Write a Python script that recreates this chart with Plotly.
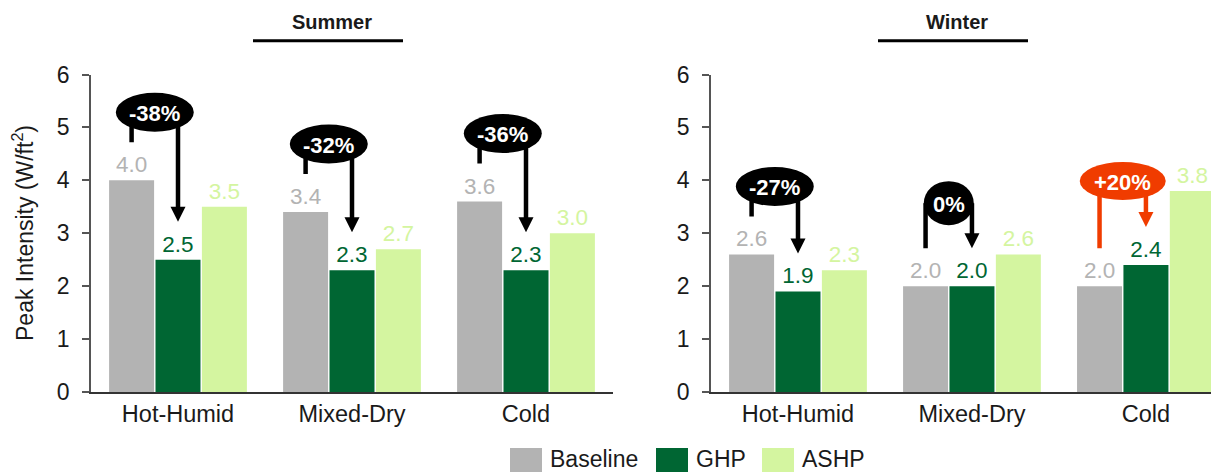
import plotly.graph_objects as go

# ---------------- data ----------------
categories = ["Hot-Humid", "Mixed-Dry", "Cold"]
series_names = ["Baseline", "GHP", "ASHP"]
summer_baseline = [4.0, 3.4, 3.6]
summer_ghp = [2.5, 2.3, 2.3]
summer_ashp = [3.5, 2.7, 3.0]
winter_baseline = [2.6, 2.0, 2.0]
winter_ghp = [1.9, 2.0, 2.4]
winter_ashp = [2.3, 2.6, 3.8]
panel_titles = ["Summer", "Winter"]
y_tick_values = [0, 1, 2, 3, 4, 5, 6]
y_axis_title = "Peak Intensity (W/ft<sup>2</sup>)"

# ---------------- styles ----------------
W, H = 1219, 472
OFF = 8  # page body margin
FONT = "Liberation Sans, Arial, sans-serif"
TXT = "#1a1a1a"
bar_colors = ["#b3b3b3", "#006633", "#d4f5a0"]
label_colors = ["#b3b3b3", "#006633", "#d4f5a0"]
DOWN_COLOR = "#000000"
UP_COLOR = "#f03c00"
BARGAP = 0.2
SLOT = (1 - BARGAP) / 3
PX_X = 174.0          # pixels per category unit
PX_Y = 317.5 / 6.0    # pixels per y unit


def px_x(p):
    return (p - OFF) / W


def px_y(p):
    return 1 - (p - OFF) / H


# callout geometry (pixels): ellipse offset above max(baseline, ghp), width, height
callout_style = {
    0: [(68, 78, 39), (68, 78, 39), (68, 78, 39)],
    1: [(68, 78, 39), (83, 50, 44), (84, 86, 38)],
}

panels = [
    (summer_baseline, summer_ghp, summer_ashp),
    (winter_baseline, winter_ghp, winter_ashp),
]
x_domains = [[px_x(91), px_x(613)], [px_x(711), px_x(1219)]]
x_ranges = [[-0.5, 2.5], [-0.5, 2.42]]
y_domain = [px_y(392), px_y(74.5)]

fig = go.Figure()
xs = list(range(len(categories)))

for p, series in enumerate(panels):
    xa = "x" if p == 0 else "x2"
    ya = "y" if p == 0 else "y2"
    for s, vals in enumerate(series):
        fig.add_trace(go.Bar(
            x=xs, y=vals, name=series_names[s],
            marker=dict(color=bar_colors[s], line=dict(width=0)),
            text=[f"{v:.1f}" for v in vals], textposition="outside",
            textfont=dict(family=FONT, size=22.5, color=label_colors[s]),
            cliponaxis=False, constraintext="none",
            offsetgroup=str(s), xaxis=xa, yaxis=ya, showlegend=False,
            hoverinfo="skip",
        ))

shapes = []
annotations = []

for p, (base, ghp, _a) in enumerate(panels):
    xr = "x" if p == 0 else "x2"
    yr = "y" if p == 0 else "y2"
    for i in range(len(categories)):
        change = round((ghp[i] - base[i]) / base[i] * 100)
        if change > 0:
            label = f"+{change}%"
        elif change < 0:
            label = f"{change}%"
        else:
            label = "0%"
        color = UP_COLOR if change > 0 else DOWN_COLOR
        off, ew, eh = callout_style[p][i]
        xb = i - SLOT
        xg = i
        xc = (xb + xg) / 2
        yc = max(base[i], ghp[i]) + off / PX_Y
        y_left_bottom = base[i] + 38 / PX_Y
        y_tip = ghp[i] + 38 / PX_Y
        head_h = 15 / PX_Y
        head_hw = 7.5 / PX_X
        shapes.append(dict(type="line", xref=xr, yref=yr, x0=xb, x1=xb,
                           y0=y_left_bottom, y1=yc,
                           line=dict(color=color, width=4.5), layer="above"))
        shapes.append(dict(type="line", xref=xr, yref=yr, x0=xg, x1=xg,
                           y0=y_tip + head_h * 0.9, y1=yc,
                           line=dict(color=color, width=4.5), layer="above"))
        shapes.append(dict(type="path", xref=xr, yref=yr,
                           path=f"M {xg - head_hw},{y_tip + head_h} L {xg + head_hw},{y_tip + head_h} L {xg},{y_tip} Z",
                           fillcolor=color, line=dict(color=color, width=0), layer="above"))
        shapes.append(dict(type="circle", xref=xr, yref=yr,
                           x0=xc - ew / 2 / PX_X, x1=xc + ew / 2 / PX_X,
                           y0=yc - eh / 2 / PX_Y, y1=yc + eh / 2 / PX_Y,
                           fillcolor=color, line=dict(color=color, width=0), layer="above"))
        annotations.append(dict(xref=xr, yref=yr, x=xc, y=yc, text=f"<b>{label}</b>",
                                showarrow=False, yshift=-1,
                                font=dict(family=FONT, size=22, color="white")))

# panel titles and underline
title_centers = [332, 957]
line_spans = [(253, 403), (878, 1028)]
for t, cx, (l0, l1) in zip(panel_titles, title_centers, line_spans):
    annotations.append(dict(xref="paper", yref="paper", x=px_x(cx), y=px_y(22),
                            text=f"<b>{t}</b>", showarrow=False,
                            xanchor="center", yanchor="middle",
                            font=dict(family=FONT, size=20, color=TXT)))
    shapes.append(dict(type="line", xref="paper", yref="paper",
                       x0=px_x(l0), x1=px_x(l1), y0=px_y(40.7), y1=px_y(40.7),
                       line=dict(color="#000000", width=3)))

# y-axis title
annotations.append(dict(xref="paper", yref="paper", x=px_x(23), y=px_y(233),
                        text=y_axis_title, textangle=-90, showarrow=False,
                        xanchor="center", yanchor="middle",
                        font=dict(family=FONT, size=23, color=TXT)))

# legend (drawn manually with big swatches)
legend_swatch_x = [510, 656, 762]
for s, name in enumerate(series_names):
    x0 = legend_swatch_x[s]
    shapes.append(dict(type="rect", xref="paper", yref="paper",
                       x0=px_x(x0), x1=px_x(x0 + 32), y0=px_y(485), y1=px_y(448),
                       fillcolor=bar_colors[s], line=dict(width=0)))
    annotations.append(dict(xref="paper", yref="paper", x=px_x(x0 + 38), y=px_y(459),
                            text=name, showarrow=False, xanchor="left", yanchor="middle",
                            font=dict(family=FONT, size=23, color=TXT)))

axis_common_x = dict(
    tickmode="array", tickvals=xs, ticktext=categories,
    showline=True, linecolor="#333333", linewidth=2, ticks="",
    showgrid=False, zeroline=False, automargin=False,
    tickfont=dict(family=FONT, size=23.5, color=TXT),
)
axis_common_y = dict(
    range=[0, 6], tickmode="array", tickvals=y_tick_values,
    showline=True, linecolor="#555555", linewidth=1.5,
    ticks="outside", ticklen=7, tickcolor="#555555", tickwidth=1.5,
    ticklabelstandoff=8, automargin=False,
    showgrid=False, zeroline=False, domain=y_domain,
    tickfont=dict(family=FONT, size=23, color=TXT),
)

fig.update_layout(
    width=W, height=H,
    margin=dict(l=0, r=0, t=0, b=0, pad=0),
    paper_bgcolor="white", plot_bgcolor="white",
    barmode="group", bargap=BARGAP, bargroupgap=0.03,
    showlegend=False,
    xaxis=dict(domain=x_domains[0], range=x_ranges[0], anchor="y", **axis_common_x),
    xaxis2=dict(domain=x_domains[1], range=x_ranges[1], anchor="y2", **axis_common_x),
    yaxis=dict(anchor="x", **axis_common_y),
    yaxis2=dict(anchor="x2", **axis_common_y),
    shapes=shapes, annotations=annotations,
    font=dict(family=FONT, color=TXT),
)

fig.write_html("out.html")
